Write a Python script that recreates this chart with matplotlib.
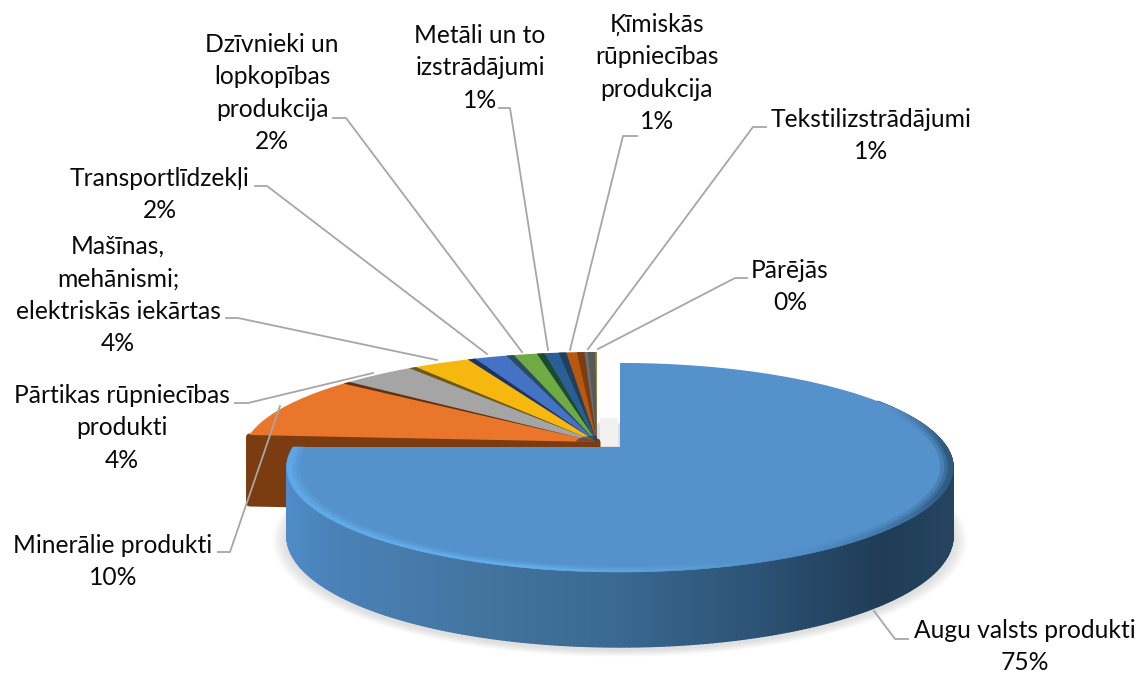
import matplotlib
matplotlib.use("Agg")
import matplotlib.pyplot as plt
from matplotlib.colors import to_rgb
import numpy as np

# slice names and shares, clockwise from 12 o'clock
categories = ["Augu valsts produkti", "Minerālie produkti", "Pārtikas rūpniecības\nprodukti",
              "Mašīnas,\nmehānismi;\nelektriskās iekārtas", "Transportlīdzekļi",
              "Dzīvnieki un\nlopkopības\nprodukcija", "Metāli un to\nizstrādājumi",
              "Ķīmiskās\nrūpniecības\nprodukcija", "Tekstilizstrādājumi", "Pārējās"]
values = [75.0, 10.2, 4.4, 3.5, 2.2, 1.7, 1.2, 1.0, 0.6, 0.2]
percentLabels = ["75%", "10%", "4%", "4%", "2%", "2%", "1%", "1%", "1%", "0%"]

colors = ["#5591CB", "#EA762B", "#A5A5A5", "#F6B80F", "#4472C4",
          "#6EAB45", "#285F94", "#B9570F", "#6B6F75", "#A08A35"]
seamColors = [None, None, "#5E3211", "#6E5A18", "#1F3360",
              "#2C4A60", "#1D4A2E", "#22405E", "#7A3E12", "#55585C"]

plt.rcParams["font.family"] = ["Lato", "DejaVu Sans"]

fig = plt.figure(figsize=(11.4, 6.73), dpi=100)
ax = fig.add_axes([0, 0, 1, 1])
ax.set_xlim(0, 1140)
ax.set_ylim(673, 0)
ax.axis("off")

tilt = 0.196  # perspective of the pie plane


def mainPoint(theta, r=1.0, drop=False):
    # theta in degrees clockwise from the top, for the pulled out slice
    t = np.radians(theta)
    u, v = r * np.sin(t), r * np.cos(t)
    w = 1 + tilt * v
    x = 620 + 326.6 * u / w
    y = (447 - 12.9 * v) / w
    if drop:
        y = y + 67 - 8 * v
    return x, y


def restPoint(theta, r=1.0):
    # same thing for the other slices, which sit behind and to the left
    t = np.radians(theta)
    u, v = r * np.sin(t), r * np.cos(t)
    w = 1 + tilt * v
    x = 597 + 347.5 * u / w
    y = (442 - 21 * v) / w + 7 * (u / w) * (1 - v)
    return x, y


def blend(a, b, k):
    a, b = np.array(to_rgb(a)), np.array(to_rgb(b))
    return tuple(a + (b - a) * k)


def ramp(pos, stops, cols):
    # colour at pos from a list of stops
    rgb = np.array([to_rgb(c) for c in cols])
    return tuple(np.interp(pos, stops, rgb[:, i]) for i in range(3))


# soft shadow under the pie
thetas = np.linspace(0, 360, 181)
for grow in [1.04, 1.034, 1.028, 1.022, 1.016, 1.01, 1.004]:
    sx, sy = mainPoint(thetas, grow, True)
    ax.fill(sx, sy + 3, color="#909090", alpha=0.045, lw=0, zorder=1)
ax.fill([600, 618, 618, 600], [418, 418, 446, 446], color="#F1F1F1", lw=0, zorder=1)

# cut face of the slices behind
rimX, rimY = restPoint(270)
apexX, apexY = restPoint(0, 0)
ax.fill([rimX, apexX, apexX, rimX], [rimY + 2, apexY, apexY + 68, rimY + 68],
        color="#7A3C10", ec="#7A3C10", lw=5, joinstyle="round", zorder=2)

# angles of all slice boundaries
edges = np.concatenate([[0], np.cumsum(values)]) / sum(values) * 360

# top faces of the slices behind
for i in range(1, len(values)):
    arc = np.linspace(edges[i], edges[i + 1], 40)
    ax_, ay_ = restPoint(arc)
    ax.fill(np.r_[apexX, ax_], np.r_[apexY, ay_], color=colors[i], lw=0, zorder=3)
    if seamColors[i] is not None:
        seam = np.array([edges[i] - 1.1, edges[i] + 0.4])
        sx, sy = restPoint(seam)
        ax.fill(np.r_[apexX, sx], np.r_[apexY, sy], color=seamColors[i], lw=0, zorder=4)

# walls of the thin slices bunch up dark around the tip
tipArc = np.linspace(edges[1], 360, 30)
tx, ty = restPoint(tipArc, 0.06)
ax.fill(np.r_[apexX, tx], np.r_[apexY, ty], color="#2A2440", alpha=0.55, lw=0, zorder=4)

# curved wall of the big slice, darker to the right
steps = np.linspace(60, edges[1], 300)
for a, b in zip(steps[:-1], steps[1:]):
    x1, y1 = mainPoint(np.array([a, b]))
    x2, y2 = mainPoint(np.array([b, a]), drop=True)
    c = ramp(x1.mean(), [287, 330, 480, 620, 760, 880, 953],
             ["#4F8CC8", "#4A82B8", "#43749F", "#3A6890", "#2C5274", "#203C56", "#24445F"])
    ax.fill(np.r_[x1, x2], np.r_[y1, y2], color=c, ec=c, lw=1.0, zorder=5)

# top of the big slice
arc = np.linspace(edges[0], edges[1], 300)
tx, ty = mainPoint(arc)
cx, cy = mainPoint(0, 0)
ax.fill(np.r_[cx, tx], np.r_[cy, ty], color=colors[0], lw=0, zorder=6)

# bevel along the rim: light at the front left, dark on the right
stopsA = [65, 90, 115, 150, 190, 270]
stopsC = ["#5591CB", "#2E5878", "#2F5D85", "#4F8CC4", "#62AEEC", "#5FA8E8"]
for a, b in zip(steps[:-1], steps[1:]):
    pair = np.array([a, b])
    c = ramp(a, stopsA, stopsC)
    for r0, r1, k in [(0.984, 1.0, 0.0), (0.974, 0.984, 0.35), (0.964, 0.974, 0.7)]:
        x1, y1 = mainPoint(pair, r1)
        x2, y2 = mainPoint(pair[::-1], r0)
        col = blend(c, colors[0], k)
        ax.fill(np.r_[x1, x2], np.r_[y1, y2], color=col, ec=col, lw=0.4, zorder=7)

# leader lines, same order as the categories
leaders = [
    [(874, 611), (895, 639), (908, 639)],
    [(280, 406), (230, 552), (218, 552)],
    [(373, 373), (248, 403), (235, 403)],
    [(437, 360), (238, 318), (226, 318)],
    [(487, 354), (267, 186), (255, 186)],
    [(522, 352), (346, 118), (333, 118)],
    [(548, 350), (510, 108), (499, 108)],
    [(570, 350), (623, 136), (637, 136)],
    [(588, 349), (753, 127), (766, 127)],
    [(598, 349), (735, 278), (747, 278)],
]
for pts in leaders:
    ax.plot([p[0] for p in pts], [p[1] for p in pts], color="#A6A6A6", lw=1.3, zorder=8)

# label block: centre x, baseline of first line
places = [(1025, 638), (113, 553), (122, 403), (118, 254), (160, 186),
          (272, 52), (480, 43), (657, 32), (871, 127), (790, 278)]
lineGap = 32.4
for name, pct, (x, y) in zip(categories, percentLabels, places):
    lines = name.split("\n") + [pct]
    for k, line in enumerate(lines):
        ax.text(x, y + k * lineGap, line, ha="center", va="baseline",
                fontsize=17.7, color="#0A0A0A", zorder=9)

plt.savefig("out.png", dpi=100)
plt.close()
